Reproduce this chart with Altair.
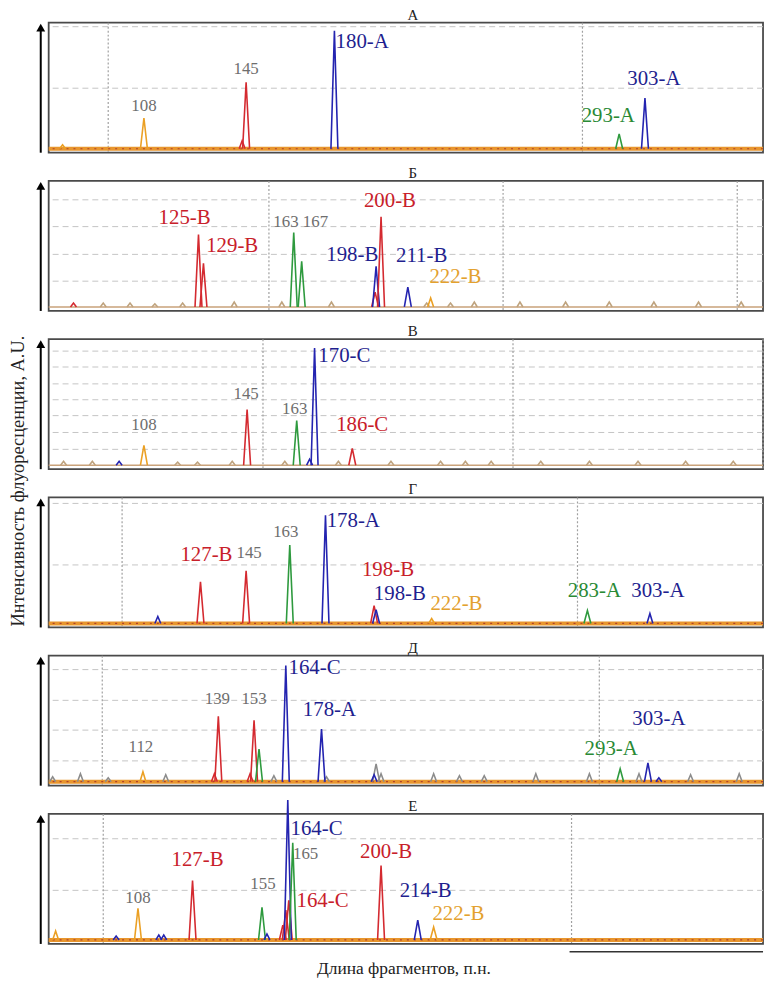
import altair as alt
import pandas as pd

# ---------------------------------------------------------------- data
PANEL_NAMES = ["А", "Б", "В", "Г", "Д", "Е"]
Y_TITLE = "Интенсивность флуоресценции, A.U."
X_TITLE = "Длина фрагментов, п.н."

# peaks: (scan position, height A.U., dye)
PEAKS_A = [(14, 4, "orange"), (96, 31, "orange"), (195, 8, "red"), (199, 67, "red"),
           (288, 119, "blue"), (575, 15, "green"), (601, 51, "blue")]
LABELS_A = [("108", 96, 43, "gray"), ("145", 199, 80, "gray"), ("180-A", 316, 108, "blue"),
            ("293-A", 564, 33, "green"), ("303-A", 610, 70, "blue")]
HGRID_A = [61, 123]
VGRID_A = [60, 538]

PEAKS_B = [(25, 4, "red"), (55, 4, "tan"), (82, 4, "tan"), (107, 3, "tan"), (135, 4, "tan"),
           (187, 5, "tan"), (235, 5, "tan"), (285, 5, "tan"), (381, 4, "tan"), (405, 4, "tan"),
           (429, 5, "tan"), (475, 5, "tan"), (521, 5, "tan"), (565, 5, "tan"), (610, 5, "tan"),
           (655, 5, "tan"), (698, 5, "tan"),
           (151, 73, "red"), (156, 44, "red"), (247, 75, "green"), (255, 46, "green"),
           (329, 15, "red"), (330, 41, "blue"), (335, 91, "red"), (362, 20, "blue"),
           (385, 9, "orange")]
LABELS_B = [("125-B", 137, 90, "red"), ("129-B", 185, 61, "red"), ("163 167", 254, 86, "gray"),
            ("198-B", 306, 52, "blue"), ("200-B", 344, 107, "red"), ("211-B", 376, 51, "blue"),
            ("222-B", 410, 30, "orange")]
HGRID_B = [26, 53, 81, 108]
VGRID_B = [222, 458, 694]

PEAKS_C = [(15, 4, "tan"), (44, 4, "tan"), (71, 4, "blue"), (130, 3, "tan"), (150, 3, "tan"),
           (185, 4, "tan"), (238, 4, "tan"), (292, 4, "tan"), (345, 4, "tan"), (395, 4, "tan"),
           (420, 4, "tan"), (446, 4, "tan"), (496, 4, "tan"), (545, 4, "tan"), (594, 4, "tan"),
           (642, 4, "tan"), (690, 4, "tan"),
           (96, 20, "orange"), (200, 56, "red"), (250, 45, "green"), (263, 6, "blue"),
           (268, 118, "blue"), (306, 17, "red")]
LABELS_C = [("108", 96, 40, "gray"), ("145", 199, 72, "gray"), ("163", 248, 57, "gray"),
            ("170-C", 298, 110, "blue"), ("186-C", 316, 40, "red")]
HGRID_C = [16, 33, 50, 66, 82, 99, 115]
VGRID_C = [216, 468, 720]

PEAKS_D = [(110, 7, "blue"), (153, 42, "red"), (199, 53, "red"), (243, 79, "green"),
           (279, 109, "blue"), (328, 18, "red"), (330, 14, "blue"), (386, 5, "orange"),
           (543, 13, "green"), (606, 10, "blue")]
LABELS_D = [("127-B", 159, 69, "red"), ("145", 202, 71, "gray"), ("163", 239, 92, "gray"),
            ("178-A", 307, 103, "blue"), ("198-B", 342, 54, "red"), ("198-B", 354, 30, "blue"),
            ("222-B", 411, 20, "orange"), ("283-A", 550, 33, "green"), ("303-A", 614, 33, "blue")]
HGRID_D = [59, 121]
VGRID_D = [74, 533]

PEAKS_E = [(4, 5, "gray"), (32, 8, "gray"), (60, 4, "gray"), (118, 7, "gray"), (227, 6, "gray"),
           (280, 5, "gray"), (335, 8, "gray"), (330, 18, "gray"), (388, 8, "gray"), (414, 6, "gray"),
           (439, 6, "gray"), (491, 8, "gray"), (545, 8, "gray"), (595, 8, "gray"), (647, 7, "gray"),
           (696, 8, "gray"),
           (95, 10, "orange"), (167, 8, "red"), (171, 66, "red"), (203, 8, "red"), (207, 62, "red"),
           (212, 33, "green"), (239, 117, "blue"), (275, 53, "blue"), (328, 7, "blue"),
           (576, 13, "green"), (604, 19, "blue"), (615, 4, "blue")]
LABELS_E = [("112", 93, 35, "gray"), ("139", 170, 83, "gray"), ("153", 207, 83, "gray"),
            ("164-C", 268, 115, "blue"), ("178-A", 283, 72, "blue"), ("293-A", 567, 33, "green"),
            ("303-A", 615, 63, "blue")]
HGRID_E = [21, 52, 82, 113]
VGRID_E = [54, 555]

PEAKS_F = [(7, 9, "orange"), (68, 4, "blue"), (90, 32, "orange"), (111, 5, "blue"), (116, 5, "blue"),
           (145, 60, "red"), (215, 33, "green"), (220, 6, "blue"), (236, 15, "red"), (239, 30, "red"),
           (242, 40, "red"), (241, 141, "blue"), (246, 98, "green"), (335, 75, "red"),
           (372, 20, "blue"), (388, 13, "orange")]
LABELS_F = [("108", 90, 42, "gray"), ("127-B", 150, 81, "red"), ("155", 216, 56, "gray"),
            ("164-C", 270, 112, "blue"), ("165", 259, 87, "gray"), ("164-C", 276, 39, "red"),
            ("200-B", 340, 89, "red"), ("214-B", 380, 49, "blue"), ("222-B", 413, 26, "orange")]
HGRID_F = [50, 102]
VGRID_F = [55, 527]

BASELINE = [0]

PANELS = [
    (PEAKS_A, LABELS_A, HGRID_A, VGRID_A, True),
    (PEAKS_B, LABELS_B, HGRID_B, VGRID_B, False),
    (PEAKS_C, LABELS_C, HGRID_C, VGRID_C, False),
    (PEAKS_D, LABELS_D, HGRID_D, VGRID_D, True),
    (PEAKS_E, LABELS_E, HGRID_E, VGRID_E, True),
    (PEAKS_F, LABELS_F, HGRID_F, VGRID_F, True),
]

# ---------------------------------------------------------------- styles
LINE_COLORS = {"blue": "#2424b0", "red": "#d42a30", "green": "#2e9a3e", "orange": "#eba024",
               "tan": "#bfa37e", "gray": "#8c8c8c"}
LABEL_COLORS = {"blue": "#1f1f8f", "red": "#c8202a", "green": "#2a8a35", "orange": "#e3a12f",
                "gray": "#6e6e6e"}
SERIF = "Liberation Serif"
W, H = 720, 131
HALF_W = 3.5
XS = alt.Scale(domain=[0, W], nice=False, zero=False)
YS = alt.Scale(domain=[-4, H - 4], nice=False, zero=False)
ONE = pd.DataFrame({"k": [0]})


def peak_table(peaks):
    rows = []
    for i, (pos, h, dye) in enumerate(peaks):
        hw = HALF_W if h > 10 else 3.0
        for k, (dx, f) in enumerate([(-hw, 0.0), (0.0, 1.0), (hw, 0.0)]):
            rows.append({"pid": i, "x": pos + dx, "y": h * f, "c": LINE_COLORS[dye], "o": k})
    return pd.DataFrame(rows)


def label_table(labels):
    return pd.DataFrame([{"t": t, "x": x, "y": y, "c": LABEL_COLORS[d],
                          "s": 17 if d == "gray" else 21} for t, x, y, d in labels])


def panel(idx):
    peaks, labels, hgrid, vgrid, noisy = PANELS[idx]
    base_df = pd.DataFrame({"y": BASELINE})
    layers = []
    layers.append(alt.Chart(pd.DataFrame({"y": hgrid})).mark_rule(
        color="#c4c4c4", strokeDash=[6, 4], strokeWidth=1).encode(
        y=alt.Y("y:Q", scale=YS, axis=None)))
    layers.append(alt.Chart(pd.DataFrame({"x": vgrid})).mark_rule(
        color="#a0a0a0", strokeDash=[2, 2], strokeWidth=1.2).encode(
        x=alt.X("x:Q", scale=XS, axis=None)))
    if noisy:
        layers.append(alt.Chart(base_df).mark_rule(color="#e8962e", strokeWidth=4).encode(
            y=alt.Y("y:Q", scale=YS, axis=None)))
        layers.append(alt.Chart(base_df).mark_rule(color="#b0402a", strokeWidth=1.2,
                                                   strokeDash=[2, 5]).encode(
            y=alt.Y("y:Q", scale=YS, axis=None)))
    else:
        layers.append(alt.Chart(base_df).mark_rule(color="#c9a27a", strokeWidth=1.5).encode(
            y=alt.Y("y:Q", scale=YS, axis=None)))
    layers.append(alt.Chart(peak_table(peaks)).mark_line(strokeWidth=1.6).encode(
        x=alt.X("x:Q", scale=XS, axis=None),
        y=alt.Y("y:Q", scale=YS, axis=None),
        detail="pid:N", order="o:Q",
        color=alt.Color("c:N", scale=None)))
    layers.append(alt.Chart(label_table(labels)).mark_text(font=SERIF, baseline="middle").encode(
        x=alt.X("x:Q", scale=XS, axis=None),
        y=alt.Y("y:Q", scale=YS, axis=None),
        text="t:N",
        color=alt.Color("c:N", scale=None),
        size=alt.Size("s:Q", scale=None)))
    # vertical arrow on the left
    layers.append(alt.Chart(ONE).mark_rule(color="#000", strokeWidth=2).encode(
        x=alt.value(-8), y=alt.value(H), y2=alt.value(6)))
    layers.append(alt.Chart(ONE).mark_point(shape="triangle-up", filled=True, size=80,
                                            color="#000", opacity=1).encode(
        x=alt.value(-8), y=alt.value(5)))
    # panel letter
    layers.append(alt.Chart(ONE).mark_text(text=PANEL_NAMES[idx], font=SERIF, fontSize=15,
                                           color="#222", baseline="alphabetic").encode(
        x=alt.value(367), y=alt.value(-3)))
    if idx == 2:
        layers.append(alt.Chart(ONE).mark_text(text=Y_TITLE, angle=270, font=SERIF,
                                               fontSize=18.5, color="#222").encode(
            x=alt.value(-31), y=alt.value(143)))
    if idx == 5:
        layers.append(alt.Chart(ONE).mark_text(text=X_TITLE, font=SERIF, fontSize=17.5,
                                               color="#222").encode(
            x=alt.value(358), y=alt.value(H + 25)))
        layers.append(alt.Chart(ONE).mark_rule(color="#333", strokeWidth=1.5).encode(
            x=alt.value(525), x2=alt.value(720), y=alt.value(H + 8)))
    return alt.layer(*layers).properties(width=W, height=H)


chart = alt.vconcat(*[panel(i) for i in range(6)], spacing=28.5, bounds="flush").properties(
    padding={"top": -5, "left": 0, "right": 0, "bottom": -4}, background="white"
).configure_view(stroke="#4a4a4a", strokeWidth=1.8)

chart.save("out.html", embed_options={"renderer": "svg", "actions": False})
